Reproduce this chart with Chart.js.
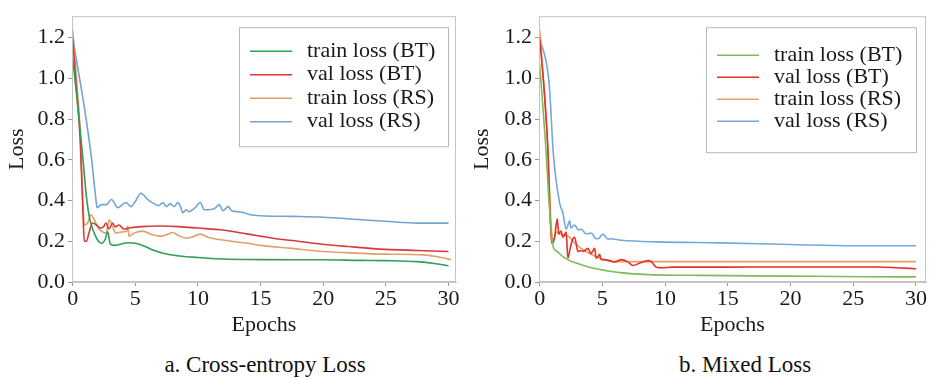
<!DOCTYPE html>
<html>
<head>
<meta charset="utf-8">
<script src="https://cdn.jsdelivr.net/npm/chart.js@4.4.0/dist/chart.umd.min.js"></script>
<style>
  body { margin: 0; background: #fff; width: 930px; height: 379px; position: relative; overflow: hidden; font-family: "Liberation Serif", "Times New Roman", serif; }
  .panel { position: absolute; top: 0; width: 465px; height: 340px; }
  .caption { position: absolute; top: 352px; width: 300px; font-size: 23px; line-height: 26px; color: #111; text-align: center; }
</style>
</head>
<body>
<div class="panel" style="left:0"><canvas id="chartA" width="465" height="340"></canvas></div>
<div class="panel" style="left:465px"><canvas id="chartB" width="465" height="340"></canvas></div>
<div class="caption" style="left:115px">a. Cross-entropy Loss</div>
<div class="caption" style="left:595px">b. Mixed Loss</div>

<script>
// axis ticks
const xTicks = [0, 5, 10, 15, 20, 25, 30];
const xTickLabels = ['0', '5', '10', '15', '20', '25', '30'];
const yTicks = [0, 0.2, 0.4, 0.6, 0.8, 1.0, 1.2];
const yTickLabels = ['0.0', '0.2', '0.4', '0.6', '0.8', '1.0', '1.2'];
const seriesNames = ['train loss (BT)', 'val loss (BT)', 'train loss (RS)', 'val loss (RS)'];

// a. Cross-entropy Loss
const aTrainBtEpochs = [0, 0.35, 0.8, 1.1, 1.33, 1.6, 2.0, 2.3, 2.6, 2.8, 3.0, 3.3, 3.8, 4.4, 5.0, 5.5, 6.3, 7.3, 8.5, 10, 12, 15, 18, 20, 23, 25, 27.5, 29, 30];
const aTrainBtLoss = [1.10, 0.90, 0.62, 0.42, 0.32, 0.26, 0.205, 0.19, 0.21, 0.247, 0.188, 0.18, 0.185, 0.193, 0.19, 0.182, 0.16, 0.14, 0.128, 0.12, 0.113, 0.11, 0.109, 0.109, 0.106, 0.105, 0.1, 0.09, 0.08];
const aValBtEpochs = [0, 0.3, 0.6, 0.85, 0.93, 1.1, 1.3, 1.6, 1.9, 2.2, 2.45, 2.66, 2.9, 3.2, 3.4, 3.7, 4.1, 4.5, 5.5, 7, 8.5, 10, 12, 14, 16, 18, 20, 22, 25, 27.5, 30];
const aValBtLoss = [1.2, 0.95, 0.7, 0.3, 0.2, 0.2, 0.24, 0.29, 0.28, 0.265, 0.27, 0.29, 0.26, 0.29, 0.27, 0.28, 0.26, 0.265, 0.272, 0.275, 0.272, 0.265, 0.255, 0.235, 0.215, 0.2, 0.185, 0.174, 0.16, 0.155, 0.15];
const aTrainRsEpochs = [0, 0.3, 0.6, 0.85, 0.93, 1.2, 1.47, 1.7, 2.0, 2.3, 2.66, 2.93, 3.2, 3.46, 3.86, 4.3, 4.4, 4.5, 4.9, 5.6, 6.25, 7.05, 7.3, 8.0, 8.4, 9.05, 9.5, 10.2, 10.8, 12.1, 14, 15, 17.5, 20, 22.5, 24.8, 28, 29, 30.2];
const aTrainRsLoss = [1.24, 1.0, 0.75, 0.35, 0.28, 0.29, 0.33, 0.31, 0.27, 0.25, 0.24, 0.305, 0.27, 0.24, 0.245, 0.25, 0.275, 0.225, 0.24, 0.25, 0.235, 0.225, 0.228, 0.243, 0.23, 0.215, 0.22, 0.235, 0.22, 0.205, 0.19, 0.18, 0.165, 0.15, 0.142, 0.137, 0.133, 0.125, 0.11];
const aValRsEpochs = [0, 0.5, 0.93, 1.47, 1.87, 1.95, 2.3, 2.7, 3.1, 3.6, 4.25, 4.65, 5.0, 5.45, 6.0, 6.65, 6.9, 7.2, 7.5, 7.8, 8.1, 8.4, 8.6, 8.8, 9.05, 9.3, 9.7, 10.2, 10.5, 11.3, 11.7, 12.0, 12.4, 12.7, 13.2, 13.7, 14.2, 15, 17.5, 20, 22.5, 25, 27.5, 30];
const aValRsLoss = [1.2, 1.02, 0.86, 0.625, 0.40, 0.365, 0.38, 0.38, 0.405, 0.365, 0.39, 0.37, 0.395, 0.436, 0.405, 0.38, 0.375, 0.39, 0.37, 0.385, 0.37, 0.39, 0.37, 0.34, 0.355, 0.345, 0.36, 0.39, 0.355, 0.36, 0.38, 0.35, 0.37, 0.35, 0.345, 0.34, 0.33, 0.325, 0.322, 0.318, 0.308, 0.298, 0.289, 0.289];

// b. Mixed Loss
const bTrainBtEpochs = [0, 0.45, 0.8, 1.05, 1.4, 1.86, 2.4, 2.92, 3.8, 4.78, 5.6, 6.4, 7.5, 9.05, 12, 17, 22, 26, 30];
const bTrainBtLoss = [1.07, 0.7, 0.35, 0.18, 0.15, 0.125, 0.105, 0.093, 0.075, 0.062, 0.053, 0.046, 0.04, 0.035, 0.033, 0.03, 0.028, 0.026, 0.025];
const bValBtEpochs = [0, 0.35, 0.65, 0.95, 1.05, 1.2, 1.4, 1.53, 1.7, 1.86, 2.12, 2.25, 2.45, 2.65, 2.79, 3.05, 3.3, 3.5, 3.85, 4.1, 4.39, 4.5, 4.65, 4.78, 4.9, 5.18, 5.58, 5.98, 6.52, 7.0, 7.45, 7.98, 8.64, 8.9, 9.3, 9.7, 10.6, 14.4, 20, 26.9, 28.5, 30];
const bValBtLoss = [1.2, 0.95, 0.66, 0.19, 0.19, 0.22, 0.31, 0.236, 0.25, 0.22, 0.245, 0.117, 0.17, 0.212, 0.22, 0.15, 0.155, 0.15, 0.165, 0.14, 0.165, 0.117, 0.125, 0.136, 0.11, 0.11, 0.105, 0.098, 0.11, 0.10, 0.081, 0.093, 0.105, 0.10, 0.073, 0.07, 0.073, 0.073, 0.074, 0.074, 0.07, 0.065];
const bTrainRsEpochs = [0, 0.3, 0.62, 0.9, 1.05, 1.33, 1.6, 1.9, 2.3, 2.65, 3.2, 3.72, 4.3, 4.78, 5.4, 6.0, 6.4, 10, 15, 20, 25, 30];
const bTrainRsLoss = [1.24, 1.0, 0.7, 0.3, 0.2, 0.245, 0.235, 0.23, 0.225, 0.2, 0.17, 0.15, 0.13, 0.117, 0.105, 0.10, 0.10, 0.10, 0.10, 0.10, 0.10, 0.10];
const bValRsEpochs = [0, 0.75, 1.1, 1.59, 1.85, 2.12, 2.39, 2.5, 2.79, 3.1, 3.3, 3.72, 4.1, 4.52, 4.65, 5.05, 5.45, 5.6, 6.5, 9.3, 14.4, 20, 25, 30];
const bValRsLoss = [1.2, 0.98, 0.625, 0.39, 0.34, 0.26, 0.30, 0.265, 0.28, 0.255, 0.26, 0.236, 0.24, 0.212, 0.212, 0.235, 0.21, 0.212, 0.205, 0.197, 0.192, 0.184, 0.178, 0.178];

Chart.defaults.font.family = "'Liberation Serif', 'Times New Roman', serif";
Chart.defaults.font.size = 22;
Chart.defaults.color = '#1a1a1a';

function points(xs, ys) {
    return xs.map((x, i) => ({ x: x, y: ys[i] }));
}

// axes frame + boxed legend inside the plot
const frameLegend = {
    id: 'frameLegend',
    afterDraw(chart, args, opts) {
        const ctx = chart.ctx;
        const a = chart.chartArea;
        ctx.save();
        ctx.strokeStyle = '#c4c4c4';
        ctx.lineWidth = 1;
        ctx.strokeRect(a.left + 0.5, a.top + 0.5, a.right - a.left - 1, a.bottom - a.top - 1);

        const bx = a.right - opts.right - opts.width;
        const by = a.top + opts.top;
        ctx.fillStyle = '#fff';
        ctx.fillRect(bx, by, opts.width, opts.height);
        ctx.strokeStyle = '#b8b8b8';
        ctx.strokeRect(bx + 0.5, by + 0.5, opts.width, opts.height);

        ctx.font = "22px 'Liberation Serif', 'Times New Roman', serif";
        ctx.textBaseline = 'middle';
        chart.data.datasets.forEach((ds, i) => {
            const y = by + opts.firstRow + i * opts.rowGap;
            ctx.strokeStyle = ds.borderColor;
            ctx.lineWidth = 1.6;
            ctx.beginPath();
            ctx.moveTo(bx + 11, y);
            ctx.lineTo(bx + 53, y);
            ctx.stroke();
            ctx.fillStyle = '#1a1a1a';
            ctx.fillText(ds.label, bx + 68, y);
        });
        ctx.restore();
    }
};

function makeChart(id, series, colors, xMax, yAxisWidth, rightPad, legendOpts) {
    const datasets = series.map((s, i) => ({
        label: seriesNames[i],
        data: points(s[0], s[1]),
        borderColor: colors[i],
        borderWidth: 1.6,
        pointRadius: 0,
        cubicInterpolationMode: 'monotone',
        fill: false
    }));
    return new Chart(document.getElementById(id), {
        type: 'line',
        data: { datasets: datasets },
        options: {
            responsive: false,
            animation: false,
            layout: { padding: { top: 7, right: rightPad, left: 0, bottom: 0 } },
            plugins: {
                legend: { display: false },
                tooltip: { enabled: false },
                frameLegend: legendOpts
            },
            scales: {
                x: {
                    type: 'linear',
                    min: -0.05,
                    max: xMax,
                    afterBuildTicks: scale => { scale.ticks = xTicks.map(v => ({ value: v })); },
                    afterFit: scale => { scale.height = 58; },
                    ticks: {
                        padding: 0,
                        maxRotation: 0,
                        callback: v => xTickLabels[xTicks.indexOf(v)]
                    },
                    grid: { drawOnChartArea: false, drawTicks: true, tickLength: 4, color: '#999' },
                    border: { color: '#c4c4c4' },
                    title: { display: true, text: 'Epochs', padding: { top: 0, bottom: 2 } }
                },
                y: {
                    min: 0,
                    max: 1.305,
                    afterBuildTicks: scale => { scale.ticks = yTicks.map(v => ({ value: v })); },
                    afterFit: scale => { scale.width = yAxisWidth; },
                    ticks: {
                        padding: 3,
                        callback: v => yTickLabels[yTicks.indexOf(v)]
                    },
                    grid: { drawOnChartArea: false, drawTicks: true, tickLength: 4, color: '#999' },
                    border: { color: '#c4c4c4' },
                    title: { display: true, text: 'Loss', padding: { top: 4, bottom: 0 } }
                }
            }
        },
        plugins: [frameLegend]
    });
}

makeChart('chartA',
    [[aTrainBtEpochs, aTrainBtLoss], [aValBtEpochs, aValBtLoss], [aTrainRsEpochs, aTrainRsLoss], [aValRsEpochs, aValRsLoss]],
    ['#2e9e5b', '#d83a3a', '#e0a06a', '#72a4d4'],
    30.6, 72, 9,
    { right: 8, top: 11, width: 209, height: 119, firstRow: 24, rowGap: 23.5 });

makeChart('chartB',
    [[bTrainBtEpochs, bTrainBtLoss], [bValBtEpochs, bValBtLoss], [bTrainRsEpochs, bTrainRsLoss], [bValRsEpochs, bValRsLoss]],
    ['#7cbc5c', '#e3302b', '#e9a060', '#72a8dc'],
    30.8, 74, 4,
    { right: 10, top: 11, width: 210, height: 125, firstRow: 28, rowGap: 22 });
</script>
</body>
</html>
